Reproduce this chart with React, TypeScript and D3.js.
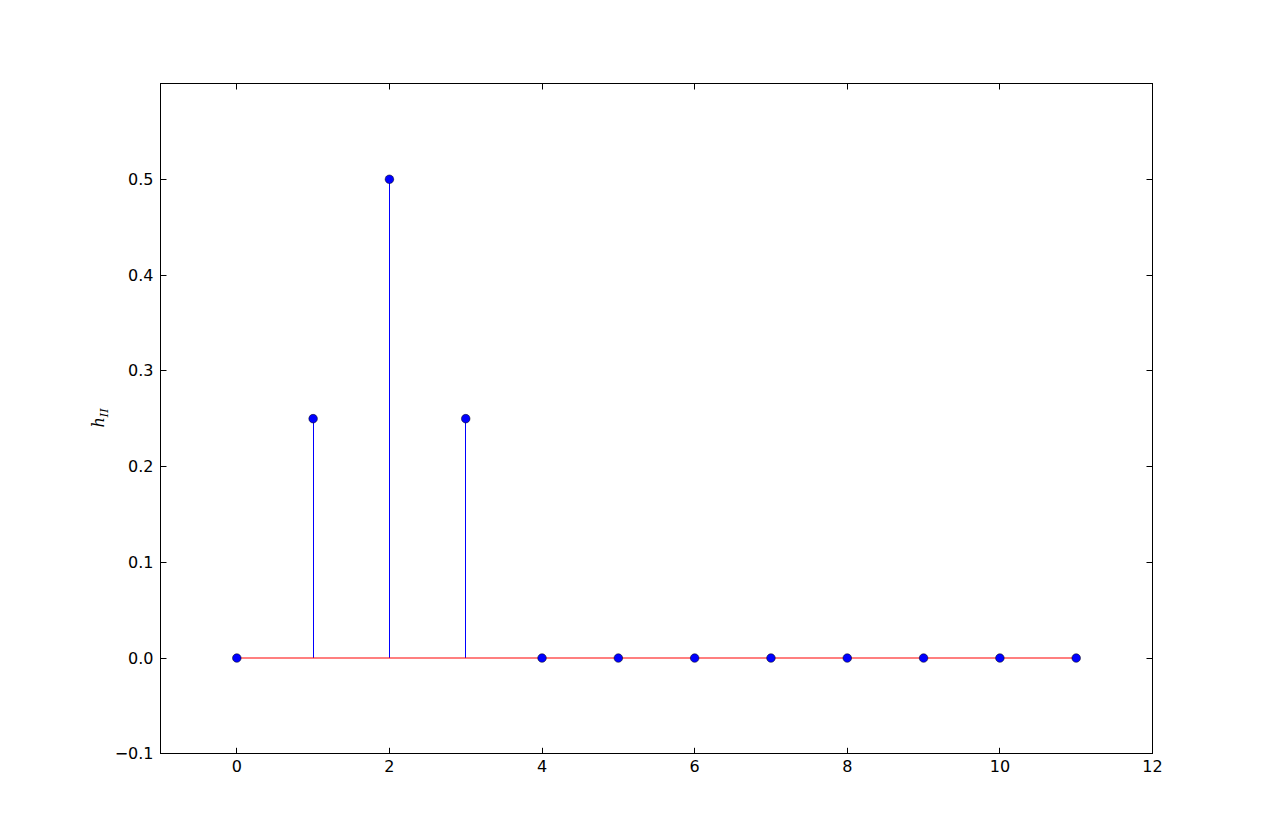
import React from "react";
import * as d3 from "d3";

const indices = [0, 1, 2, 3, 4, 5, 6, 7, 8, 9, 10, 11];
const values = [0, 0.25, 0.5, 0.25, 0, 0, 0, 0, 0, 0, 0, 0];
const xTicks = [0, 2, 4, 6, 8, 10, 12];
const yTicks = [-0.1, 0.0, 0.1, 0.2, 0.3, 0.4, 0.5];

export default function App() {
  const W = 1280, H = 837;
  const L = 160.5, R = 1152.5, T = 83.5, B = 753.8;
  const x = d3.scaleLinear().domain([-1, 12]).range([L, R]);
  const y = d3.scaleLinear().domain([-0.1, 0.6]).range([B, T]);
  const tl = 6;
  const font = "DejaVu Sans, sans-serif";
  const stemIdx = indices.filter((_, i) => values[i] !== 0);
  const px = (v: number) => Math.floor(v) + 0.5;
  return (
    <svg width={W} height={H} style={{ position: "absolute", left: 0, top: 0, background: "#fff" }}>
      <rect x={0} y={0} width={W} height={H} fill="#fff" />
      {/* stems */}
      {stemIdx.map((d) => (
        <line key={"s" + d} x1={px(x(d))} x2={px(x(d))} y1={y(0)} y2={y(values[d])} stroke="#0000ff" strokeWidth={1} />
      ))}
      {/* baseline */}
      <line x1={x(indices[0])} x2={x(indices[indices.length - 1])} y1={y(0)} y2={y(0)} stroke="#ff0000" strokeWidth={1.1} />
      {indices.map((d, i) => (
        <circle key={"c" + i} cx={x(d)} cy={y(values[i])} r={4.3} fill="#0000ff" stroke="#000" strokeWidth={0.5} />
      ))}
      {/* frame */}
      <rect x={L} y={T} width={R - L} height={px(B) - T} fill="none" stroke="#000" strokeWidth={1} />
      {xTicks.map((t) => (
        <g key={"x" + t}>
          <line x1={px(x(t))} x2={px(x(t))} y1={B} y2={B - tl} stroke="#000" />
          <line x1={px(x(t))} x2={px(x(t))} y1={T} y2={T + tl} stroke="#000" />
          <text x={x(t)} y={B + 18} textAnchor="middle" fontFamily={font} fontSize={16}>{t}</text>
        </g>
      ))}
      {yTicks.map((t) => (
        <g key={"y" + t}>
          <line x1={L} x2={L + tl} y1={px(y(t))} y2={px(y(t))} stroke="#000" />
          <line x1={R} x2={R - tl} y1={px(y(t))} y2={px(y(t))} stroke="#000" />
          <text x={L - 7} y={y(t)} dy="0.35em" textAnchor="end" fontFamily={font} fontSize={16}>
            {t < 0 ? "\u2212" + Math.abs(t).toFixed(1) : t.toFixed(1)}
          </text>
        </g>
      ))}
      <text transform={`translate(104,418) rotate(-90)`} textAnchor="middle" fontFamily="DejaVu Serif, serif" fontStyle="italic" fontSize={16}>
        h<tspan fontSize={11} dy={4}>II</tspan>
      </text>
    </svg>
  );
}
